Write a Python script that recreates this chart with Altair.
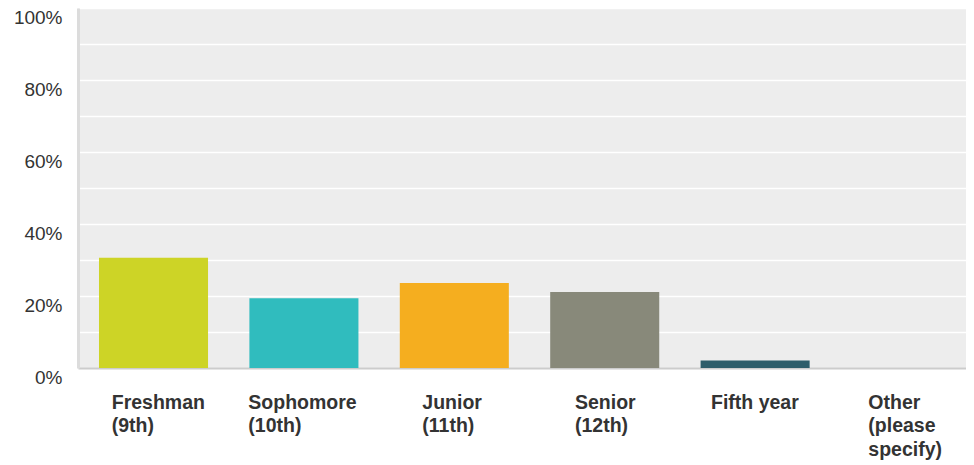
import altair as alt
import pandas as pd

categories = ["Freshman|(9th)", "Sophomore|(10th)", "Junior|(11th)", "Senior|(12th)",
              "Fifth year", "Other|(please|specify)"]
values = [0.306, 0.194, 0.236, 0.211, 0.021, 0.0]
colors = ["#CDD426", "#30BCBE", "#F5AE1F", "#88897A", "#2E5E6B", "#999999"]
label_shift = [-41.8, -55.6, -32.0, -29.7, -44.1, -37.2]
y_ticks = [0, 0.1, 0.2, 0.3, 0.4, 0.5, 0.6, 0.7, 0.8, 0.9, 1.0]

df = pd.DataFrame({"category": categories, "value": values})

offset_conditions = [
    {"test": f"datum.value == '{c}'", "value": s}
    for c, s in zip(categories, label_shift)
]

chart = alt.Chart(df).mark_bar().encode(
    x=alt.X("category:N", sort=categories, title=None,
            scale=alt.Scale(paddingInner=0.275, paddingOuter=0.0896, align=0.779,
                            round=False),
            axis=alt.Axis(labelAngle=0, labelAlign="left", labelBaseline="top",
                          labelOffset={"condition": offset_conditions, "value": -40},
                          labelPadding=25, labelLineHeight=23.5,
                          labelExpr="split(datum.label, '|')",
                          labelFont="Liberation Sans", labelFontSize=19.5,
                          labelFontWeight="bold", labelColor="#333333",
                          ticks=False, domainColor="#CCCCCC", domainWidth=2,
                          grid=False)),
    y=alt.Y("value:Q", title=None,
            scale=alt.Scale(domain=[0, 1], nice=False),
            axis=alt.Axis(values=y_ticks, format="%",
                          labelExpr="round(datum.value*10) % 2 == 0 ? datum.label : ''",
                          labelFont="Liberation Sans", labelFontSize=19,
                          labelColor="#333333", labelPadding=16, labelOffset=9,
                          ticks=False, domainColor="#DCDCDC", domainWidth=3,
                          grid=True, gridColor="#FFFFFF", gridWidth=1.5)),
    color=alt.Color("category:N", sort=categories,
                    scale=alt.Scale(domain=categories, range=colors), legend=None),
).properties(
    width=888, height=360,
    autosize="none",
    padding={"left": 70, "top": 0, "right": 0, "bottom": 97},
).configure_view(
    fill="#EDEDED", stroke=None
).configure_axis(
    labelFlush=False, labelOverlap=False
)

chart.save("out.html", embed_options={"renderer": "svg", "actions": False})
